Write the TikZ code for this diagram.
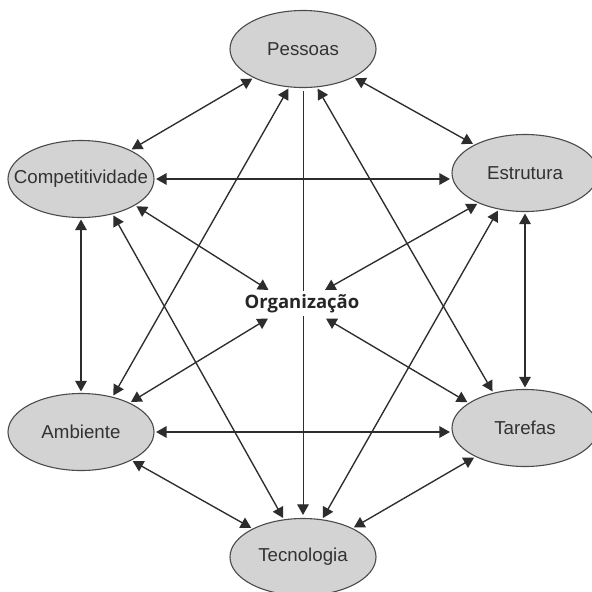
\documentclass[tikz,border=0pt]{standalone}
\usepackage{fontspec}
\setmainfont{Liberation Sans}
\newfontfamily\orgfont{Open Sans}
\usetikzlibrary{arrows.meta,shapes.geometric}
\pgfdeclarelayer{bg}
\pgfsetlayers{bg,main}
\definecolor{ellfill}{RGB}{211,211,211}
\definecolor{ellline}{RGB}{75,75,75}
\definecolor{linec}{RGB}{45,45,45}
\definecolor{txtc}{RGB}{50,50,50}
\begin{document}
\begin{tikzpicture}[x=1pt,y=-1pt,
  ell/.style={ellipse, draw=ellline, line width=1.1pt, fill=ellfill,
    minimum width=146pt, minimum height=77pt, inner sep=0pt,
    font=\fontsize{18.7}{20}\selectfont, text=txtc},
  tipshape/.tip={Triangle[length=10.5pt,width=11.5pt]},
  conn/.style={draw=linec, line width=1.35pt, tipshape-tipshape,
    shorten >=1.5pt, shorten <=1.5pt},
  toorg/.style={conn, shorten >=0pt},
  single/.style={draw=linec, line width=1pt, -tipshape,
    shorten >=3pt, shorten <=3pt}]
\useasboundingbox (0,0) rectangle (592,592);
\clip (0,0) rectangle (592,592);

\node[ell] (pes) at (303,49) {\makebox[0pt]{Pessoas}};
\node[ell] (comp) at (81,179) {\makebox[0pt]{Competitividade}};
\node[ell] (estr) at (525,173) {\makebox[0pt]{Estrutura}};
\node[ell] (amb) at (81,432) {\makebox[0pt]{Ambiente}};
\node[ell] (taref) at (525,428) {\makebox[0pt]{Tarefas}};
\node[ell] (tecn) at (303,557) {\makebox[0pt]{Tecnologia}};
\node[fill=white, inner sep=1pt, minimum height=25pt,
  font=\orgfont\bfseries\fontsize{18.5}{20}\selectfont, text=black!85]
  (org) at (302,303.5) {Organização};

\coordinate (onw) at (268.5,290);
\coordinate (one) at (325,290);
\coordinate (osw) at (268,318.5);
\coordinate (ose) at (326,318.5);

\begin{pgfonlayer}{bg}
\fill[white] (0,0) rectangle (592,592);
\draw[conn] (pes) -- (comp);
\draw[conn] (pes) -- (estr);
\draw[conn] (comp.east) -- (comp.east -| estr.west);
\draw[conn] (amb.east) -- (amb.east -| taref.west);
\draw[conn] (comp.south) -- (amb.north);
\draw[conn] (estr.south) -- (estr.south |- taref.north);
\draw[conn] (pes.250) -- (amb.48);
\draw[conn] (pes.290) -- (taref.132);
\draw[conn] (comp.312) -- (tecn.117);
\draw[conn] (estr.234) -- (tecn.63);
\draw[conn] (amb) -- (tecn);
\draw[conn] (taref) -- (tecn);
\draw[toorg] (comp.-26) -- (onw);
\draw[toorg] (estr.213) -- (one);
\draw[toorg] (amb.31) -- (osw);
\draw[toorg] (taref.156) -- (ose);
\draw[single] (pes.south) -- (tecn.north);
\end{pgfonlayer}
\end{tikzpicture}
\end{document}
